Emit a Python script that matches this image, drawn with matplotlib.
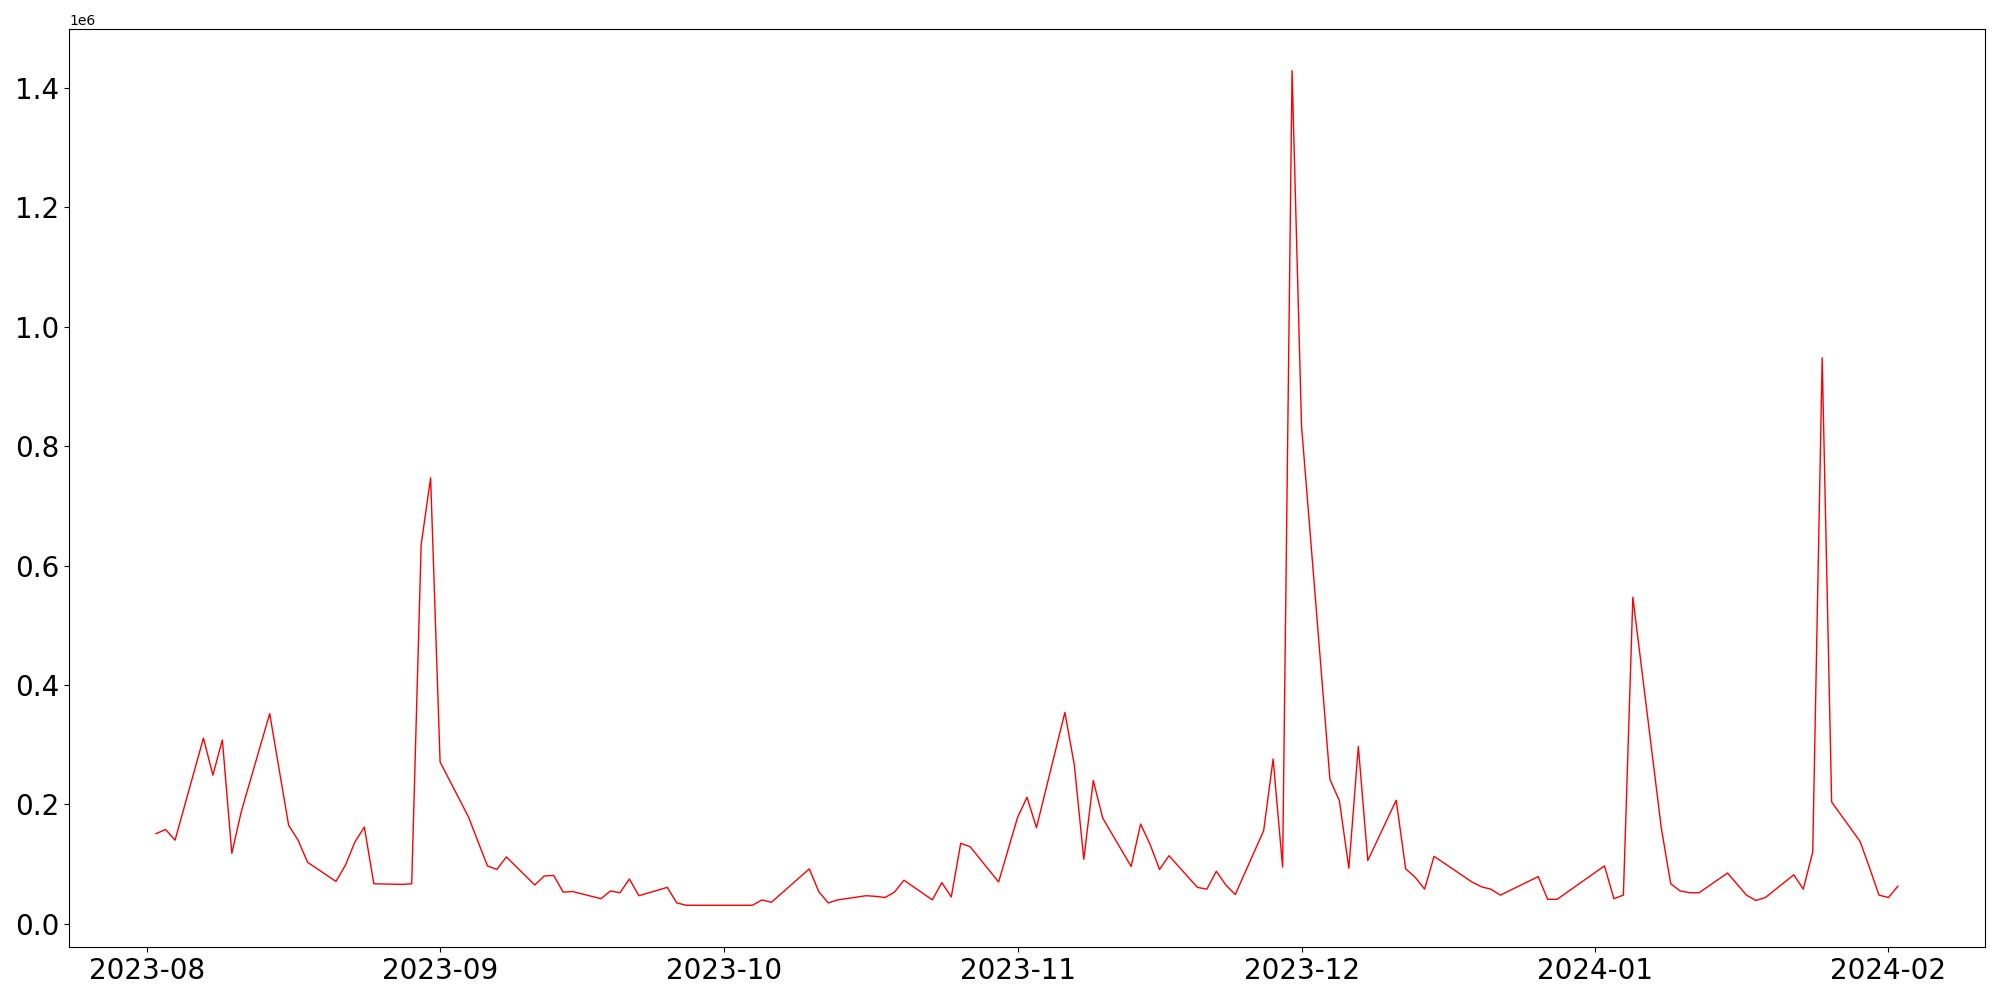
"""
Daily values Aug 2023 - Feb 2024
"""
import numpy as np
import pandas as pd
import matplotlib
matplotlib.use('Agg')
import matplotlib.pyplot as plt

#Dates with data
dates = ['2023-08-02', '2023-08-03', '2023-08-04', '2023-08-07', '2023-08-08',
	'2023-08-09', '2023-08-10', '2023-08-11', '2023-08-14', '2023-08-16',
	'2023-08-17', '2023-08-18', '2023-08-21', '2023-08-22', '2023-08-23',
	'2023-08-24', '2023-08-25', '2023-08-28', '2023-08-29', '2023-08-30',
	'2023-08-31', '2023-09-01', '2023-09-04', '2023-09-06', '2023-09-07',
	'2023-09-08', '2023-09-11', '2023-09-12', '2023-09-13', '2023-09-14',
	'2023-09-15', '2023-09-18', '2023-09-19', '2023-09-20', '2023-09-21',
	'2023-09-22', '2023-09-25', '2023-09-26', '2023-09-27', '2023-10-04',
	'2023-10-05', '2023-10-06', '2023-10-10', '2023-10-11', '2023-10-12',
	'2023-10-13', '2023-10-16', '2023-10-17', '2023-10-18', '2023-10-19',
	'2023-10-20', '2023-10-23', '2023-10-24', '2023-10-25', '2023-10-26',
	'2023-10-27', '2023-10-30', '2023-11-01', '2023-11-02', '2023-11-03',
	'2023-11-06', '2023-11-07', '2023-11-08', '2023-11-09', '2023-11-10',
	'2023-11-13', '2023-11-14', '2023-11-15', '2023-11-16', '2023-11-17',
	'2023-11-20', '2023-11-21', '2023-11-22', '2023-11-23', '2023-11-24',
	'2023-11-27', '2023-11-28', '2023-11-29', '2023-11-30', '2023-12-01',
	'2023-12-04', '2023-12-05', '2023-12-06', '2023-12-07', '2023-12-08',
	'2023-12-11', '2023-12-12', '2023-12-13', '2023-12-14', '2023-12-15',
	'2023-12-19', '2023-12-20', '2023-12-21', '2023-12-22', '2023-12-26',
	'2023-12-27', '2023-12-28', '2024-01-02', '2024-01-03', '2024-01-04',
	'2024-01-05', '2024-01-08', '2024-01-09', '2024-01-10', '2024-01-11',
	'2024-01-12', '2024-01-15', '2024-01-17', '2024-01-18', '2024-01-19',
	'2024-01-22', '2024-01-23', '2024-01-24', '2024-01-25', '2024-01-26',
	'2024-01-29', '2024-01-30', '2024-01-31', '2024-02-01', '2024-02-02']

#Values in millions
values = [0.151, 0.158, 0.140, 0.311, 0.249,
	0.308, 0.118, 0.188, 0.352, 0.165,
	0.140, 0.103, 0.071, 0.098, 0.137,
	0.162, 0.067, 0.066, 0.067, 0.635,
	0.747, 0.271, 0.179, 0.097, 0.091,
	0.112, 0.065, 0.080, 0.081, 0.053,
	0.054, 0.042, 0.055, 0.052, 0.075,
	0.047, 0.061, 0.035, 0.031, 0.031,
	0.040, 0.036, 0.092, 0.054, 0.035,
	0.040, 0.047, 0.046, 0.044, 0.053,
	0.073, 0.040, 0.069, 0.045, 0.135,
	0.129, 0.070, 0.178, 0.212, 0.161,
	0.354, 0.266, 0.108, 0.240, 0.177,
	0.096, 0.167, 0.133, 0.091, 0.114,
	0.061, 0.058, 0.088, 0.065, 0.049,
	0.156, 0.276, 0.095, 1.429, 0.834,
	0.242, 0.206, 0.093, 0.297, 0.106,
	0.207, 0.092, 0.078, 0.058, 0.113,
	0.070, 0.062, 0.058, 0.048, 0.079,
	0.041, 0.041, 0.097, 0.042, 0.048,
	0.547, 0.161, 0.067, 0.055, 0.052,
	0.052, 0.085, 0.048, 0.039, 0.044,
	0.082, 0.058, 0.120, 0.948, 0.204,
	0.138, 0.094, 0.048, 0.044, 0.063]

x = pd.to_datetime(dates)
y = np.array(values) * 1e6

fig, ax = plt.subplots(figsize = (20, 10), dpi = 100)
ax.plot(x, y, color = 'red', linewidth = 1)
ax.tick_params(axis = 'both', labelsize = 20)
fig.subplots_adjust(left = 0.0345, right = 0.9925, bottom = 0.053, top = 0.971)
plt.savefig('out.png')
